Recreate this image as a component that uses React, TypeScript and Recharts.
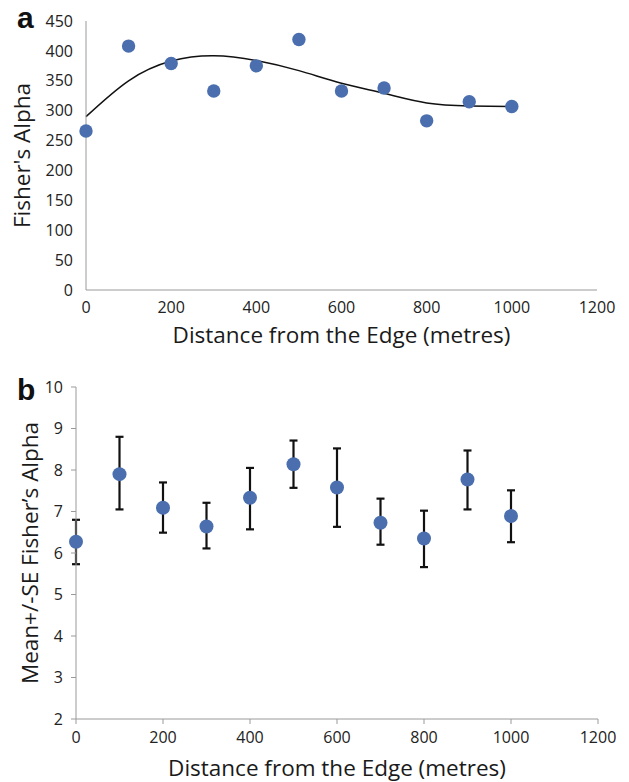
import React from 'react'
import {
  ComposedChart,
  ScatterChart,
  Scatter,
  Line,
  XAxis,
  YAxis,
  ErrorBar
} from 'recharts'

const distances = [0, 100, 200, 300, 400, 500, 600, 700, 800, 900, 1000]
const alphaValues = [266, 408, 379, 333, 375, 419, 333, 338, 283, 315, 307]
const trendValues = [290, 350, 383, 392, 384, 367, 346, 329, 313, 308, 307]
const meanValues = [6.27, 7.9, 7.09, 6.64, 7.33, 8.14, 7.58, 6.73, 6.35, 7.77, 6.89]
const upperValues = [6.8, 8.8, 7.7, 7.21, 8.05, 8.71, 8.52, 7.31, 7.02, 8.47, 7.51]
const lowerValues = [5.73, 7.05, 6.49, 6.11, 6.57, 7.57, 6.63, 6.2, 5.66, 7.05, 6.26]
const xTicks = [0, 200, 400, 600, 800, 1000, 1200]
const yTicksA = [0, 50, 100, 150, 200, 250, 300, 350, 400, 450]
const yTicksB = [2, 3, 4, 5, 6, 7, 8, 9, 10]

const dotColor = '#4a6eae'
const font = '"Open Sans", sans-serif'
const tickStyle = { fill: '#222', fontSize: 16, fontFamily: font }
const titleStyle = { fill: '#1a1a1a', fontSize: 22.5, fontFamily: font }

const pointsA = distances.map((x, i) => ({ x, y: alphaValues[i] }))
const trendA = distances.map((x, i) => ({ x, y: trendValues[i] }))
const pointsB = distances.map((x, i) => ({
  x,
  y: meanValues[i],
  err: [meanValues[i] - lowerValues[i], upperValues[i] - meanValues[i]]
}))

const Dot = (r: number) => (props: any) => (
  <circle cx={props.cx} cy={props.cy} r={r} fill={dotColor} />
)

const letterStyle: React.CSSProperties = {
  position: 'absolute',
  left: 17,
  fontFamily: 'Arial, "Liberation Sans", sans-serif',
  fontWeight: 'bold',
  fontSize: 30,
  lineHeight: '30px',
  color: '#111'
}

export default function App () {
  return (
    <div style={{ position: 'absolute', left: 0, top: 0, width: 629, height: 782, background: '#fff' }}>
      <div style={{ ...letterStyle, top: 3 }}>a</div>
      <div style={{ ...letterStyle, top: 375 }}>b</div>
      <div style={{ position: 'absolute', left: 0, top: 0 }}>
        <ComposedChart width={629} height={352} margin={{ top: 21, right: 32, bottom: 0, left: 0 }}>
          <XAxis
            type="number"
            dataKey="x"
            domain={[0, 1200]}
            ticks={xTicks}
            tickLine={false}
            tickSize={6}
            tickMargin={6}
            stroke="#9a9a9a"
            tick={tickStyle}
            height={62}
            label={{ value: 'Distance from the Edge (metres)', position: 'insideBottom', offset: 9, style: titleStyle }}
          />
          <YAxis
            type="number"
            dataKey="y"
            domain={[0, 450]}
            ticks={yTicksA}
            tickLine={false}
            tickSize={6}
            tickMargin={7}
            stroke="#9a9a9a"
            tick={tickStyle}
            width={86}
            label={{ value: "Fisher's Alpha", angle: -90, position: 'insideLeft', offset: 22, style: { ...titleStyle, textAnchor: 'middle' } }}
          />
          <Line
            data={trendA}
            dataKey="y"
            type="natural"
            stroke="#111"
            strokeWidth={1.5}
            dot={false}
            isAnimationActive={false}
          />
          <Scatter data={pointsA} dataKey="y" shape={Dot(6.7)} isAnimationActive={false} />
        </ComposedChart>
      </div>
      <div style={{ position: 'absolute', left: 0, top: 352 }}>
        <ScatterChart width={629} height={430} margin={{ top: 35, right: 31, bottom: 0, left: 0 }}>
          <XAxis
            type="number"
            dataKey="x"
            domain={[0, 1200]}
            ticks={xTicks}
            tickSize={5}
            tickMargin={8}
            stroke="#9a9a9a"
            tick={tickStyle}
            height={63}
            label={{ value: 'Distance from the Edge (metres)', position: 'insideBottom', offset: 6, style: titleStyle }}
          />
          <YAxis
            type="number"
            dataKey="y"
            domain={[2, 10]}
            ticks={yTicksB}
            tickSize={5}
            tickMargin={8}
            stroke="#9a9a9a"
            tick={tickStyle}
            width={76}
            label={{ value: 'Mean+/-SE Fisher\u2019s Alpha', angle: -90, position: 'insideLeft', offset: 30, style: { ...titleStyle, textAnchor: 'middle' } }}
          />
          <Scatter data={pointsB} dataKey="y" shape={Dot(7)} isAnimationActive={false}>
            <ErrorBar dataKey="err" direction="y" width={4} stroke="#111" strokeWidth={2.2} isAnimationActive={false} />
          </Scatter>
        </ScatterChart>
      </div>
    </div>
  )
}
